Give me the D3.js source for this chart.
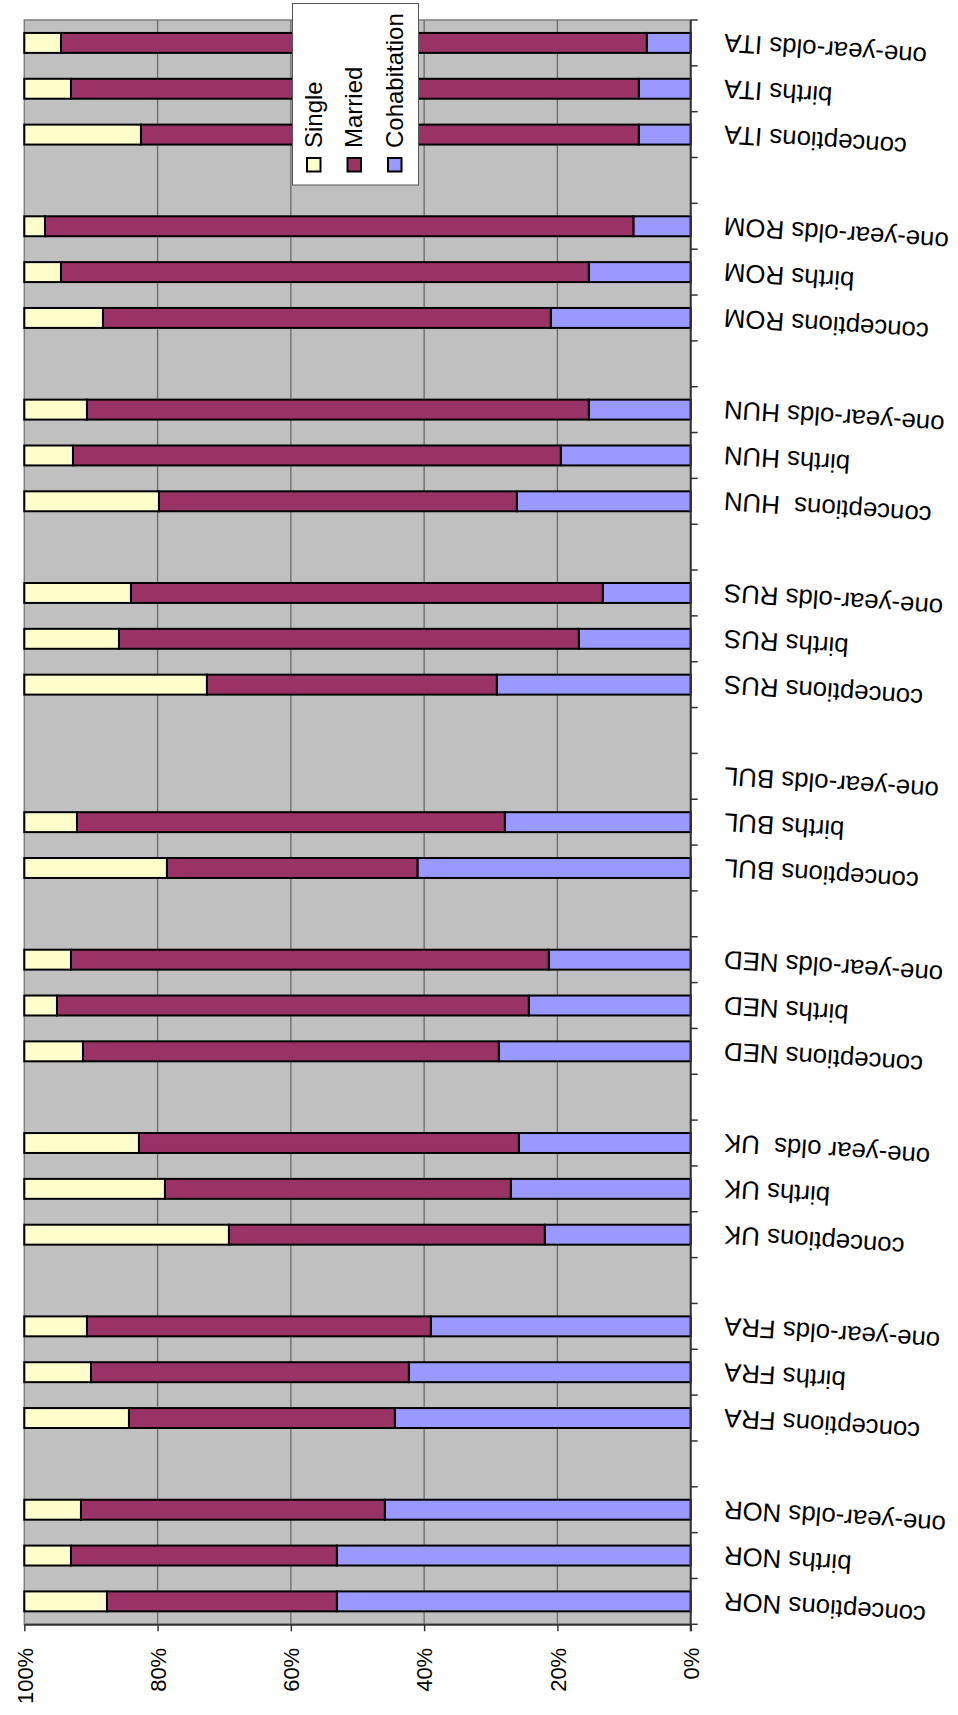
<!DOCTYPE html>
<html>
<head>
<meta charset="utf-8">
<script src="https://cdn.jsdelivr.net/npm/d3@7"></script>
<style>
  html, body { margin: 0; padding: 0; background: #ffffff; }
  svg { display: block; font-family: "Liberation Sans", Arial, sans-serif; }
</style>
</head>
<body>
<svg id="chart" width="958" height="1715"></svg>
<script>
// Category slots listed from the bottom of the plot upward; empty strings are spacer slots between countries.
const categories = [
  "conceptions NOR", "births NOR", "one-year-olds NOR", "",
  "conceptions FRA", "births FRA", "one-year-olds FRA", "",
  "conceptions UK", "births UK", "one-year olds  UK", "",
  "conceptions NED", "births NED", "one-year-olds NED", "",
  "conceptions BUL", "births BUL", "one-year-olds BUL", "",
  "conceptions RUS", "births RUS", "one-year-olds RUS", "",
  "conceptions  HUN", "births HUN", "one-year-olds HUN", "",
  "conceptions ROM", "births ROM", "one-year-olds ROM", "",
  "conceptions ITA", "births ITA", "one-year-olds ITA"
];

// Shares (%) per slot; null where there is no bar.
const cohabitation = [
  53.1, 53.1, 45.9, null,
  44.4, 42.3, 39.0, null,
  21.9, 27.0, 25.8, null,
  28.8, 24.3, 21.3, null,
  41.0, 27.9, null, null,
  29.1, 16.8, 13.2, null,
  26.1, 19.5, 15.3, null,
  21.0, 15.3, 8.6, null,
  7.8, 7.8, 6.6
];
const married = [
  34.5, 39.9, 45.6, null,
  39.9, 47.7, 51.6, null,
  47.4, 51.9, 57.0, null,
  62.4, 70.8, 71.7, null,
  37.6, 64.2, null, null,
  43.5, 69.0, 70.8, null,
  53.7, 73.2, 75.3, null,
  67.2, 79.2, 88.3, null,
  74.7, 85.2, 87.9
];
const single = [
  12.4, 7.0, 8.5, null,
  15.7, 10.0, 9.4, null,
  30.7, 21.1, 17.2, null,
  8.8, 4.9, 7.0, null,
  21.4, 7.9, null, null,
  27.4, 14.2, 16.0, null,
  20.2, 7.3, 9.4, null,
  11.8, 5.5, 3.1, null,
  17.5, 7.0, 5.5
];

const seriesNames = ["Cohabitation", "Married", "Single"];
const seriesColors = ["#9999FF", "#993366", "#FFFFCC"];
const valueTicks = [0, 20, 40, 60, 80, 100];

// Legend is listed in its own order.
const legendNames = ["Single", "Married", "Cohabitation"];
const legendColors = ["#FFFFCC", "#993366", "#9999FF"];

// ---- layout ----
const plotLeft = 24.3, plotRight = 690.7, plotTop = 20, plotBottom = 1624.3;
const svg = d3.select("#chart");

const rows = categories.map((c, i) => ({
  index: i,
  label: c,
  Cohabitation: cohabitation[i],
  Married: married[i],
  Single: single[i]
}));

const x = d3.scaleLinear().domain([0, 100]).range([plotRight, plotLeft]);
const y = d3.scaleBand()
  .domain(d3.range(categories.length))
  .range([plotBottom, plotTop])
  .paddingInner(0.565)
  .paddingOuter(0.2825);

// plot background
svg.append("rect")
  .attr("x", plotLeft).attr("y", plotTop)
  .attr("width", plotRight - plotLeft).attr("height", plotBottom - plotTop)
  .attr("fill", "#C0C0C0")
  .attr("stroke", "#808080").attr("stroke-width", 1.5);

// vertical gridlines
svg.append("g").selectAll("line")
  .data(valueTicks.filter(v => v > 0 && v < 100))
  .join("line")
  .attr("x1", d => x(d)).attr("x2", d => x(d))
  .attr("y1", plotTop).attr("y2", plotBottom)
  .attr("stroke", "#6a6a6a").attr("stroke-width", 1.3);

// stacked bars
const stack = d3.stack()
  .keys(seriesNames)
  .value((d, k) => d[k] == null ? 0 : d[k]);
const stacked = stack(rows);

svg.append("g").selectAll("g")
  .data(stacked)
  .join("g")
  .attr("fill", (d, i) => seriesColors[i])
  .selectAll("rect")
  .data(d => d.filter(s => s.data[d.key] != null))
  .join("rect")
  .attr("x", d => x(d[1]))
  .attr("width", d => x(d[0]) - x(d[1]))
  .attr("y", d => y(d.data.index))
  .attr("height", y.bandwidth())
  .attr("stroke", "#000").attr("stroke-width", 2);

// value axis along the bottom
const xAxis = svg.append("g")
  .attr("transform", `translate(0,${plotBottom})`)
  .call(d3.axisBottom(x)
    .tickValues(valueTicks)
    .tickFormat(d => d + "%")
    .tickSize(7)
    .tickSizeOuter(0));
xAxis.select(".domain").attr("stroke", "#333").attr("stroke-width", 2);
xAxis.selectAll(".tick line").attr("stroke", "#333").attr("stroke-width", 1.5);
xAxis.selectAll(".tick text")
  .attr("transform", "rotate(-90)")
  .attr("text-anchor", "end")
  .attr("x", -23.5)
  .attr("y", 0)
  .attr("dy", "0.35em")
  .attr("fill", "#000")
  .style("font-size", "22px")
  .style("font-family", "'Liberation Sans', Arial, sans-serif");

// category axis on the right (0% side)
svg.append("line")
  .attr("x1", plotRight).attr("x2", plotRight)
  .attr("y1", plotTop).attr("y2", plotBottom + 7)
  .attr("stroke", "#333").attr("stroke-width", 2);

const step = y.step();
svg.append("g").selectAll("line")
  .data(d3.range(categories.length + 1))
  .join("line")
  .attr("x1", plotRight).attr("x2", plotRight + 7)
  .attr("y1", d => plotBottom - d * step)
  .attr("y2", d => plotBottom - d * step)
  .attr("stroke", "#333").attr("stroke-width", 1.5);

svg.append("g").selectAll("text")
  .data(rows.filter(r => r.label !== ""))
  .join("text")
  .attr("transform", d => `translate(724,${y(d.index) + y.bandwidth() / 2}) rotate(184)`)
  .attr("text-anchor", "end")
  .attr("dy", "0.35em")
  .style("font-size", "25.8px")
  .style("white-space", "pre")
  .attr("fill", "#000")
  .text(d => d.label);

// legend
const legend = svg.append("g");
legend.append("rect")
  .attr("x", 292.5).attr("y", 3.5)
  .attr("width", 126).attr("height", 181.5)
  .attr("fill", "#fff")
  .attr("stroke", "#555").attr("stroke-width", 1);

const legendX = d3.scalePoint().domain(legendNames).range([307, 388]);
const items = legend.selectAll("g.item")
  .data(legendNames)
  .join("g")
  .attr("class", "item");
items.append("rect")
  .attr("x", d => legendX(d))
  .attr("y", 158)
  .attr("width", 13.5).attr("height", 13.5)
  .attr("fill", (d, i) => legendColors[i])
  .attr("stroke", "#000").attr("stroke-width", 2);
items.append("text")
  .attr("transform", d => `translate(${legendX(d) + 14.5},148) rotate(-90)`)
  .attr("text-anchor", "start")
  .style("font-size", "24px")
  .attr("fill", "#000")
  .text(d => d);
</script>
</body>
</html>
